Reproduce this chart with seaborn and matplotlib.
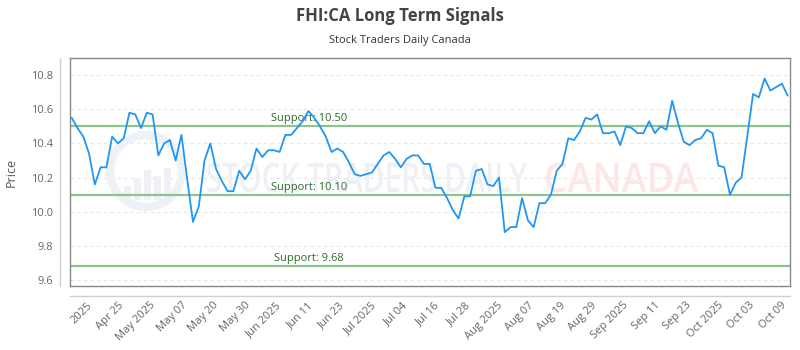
import numpy as np
import pandas as pd
import matplotlib
matplotlib.use('Agg')
import matplotlib.pyplot as plt
from matplotlib.patches import Circle, Rectangle, PathPatch
from matplotlib.lines import Line2D
from matplotlib.textpath import TextPath
from matplotlib.font_manager import FontProperties
from matplotlib.transforms import Affine2D
import seaborn as sns

# closing prices, one per trading day
prices = [
    10.55, 10.49, 10.44, 10.34, 10.16, 10.26, 10.26, 10.44, 10.40, 10.43,
    10.58, 10.57, 10.49, 10.58, 10.57, 10.33, 10.40, 10.42, 10.30, 10.45,
    10.19, 9.94, 10.03, 10.30, 10.40, 10.25, 10.18, 10.12, 10.12, 10.24,
    10.19, 10.24, 10.37, 10.32, 10.36, 10.36, 10.35, 10.45, 10.45, 10.49,
    10.53, 10.59, 10.55, 10.50, 10.44, 10.35, 10.37, 10.35, 10.29, 10.22,
    10.21, 10.22, 10.23, 10.28, 10.33, 10.35, 10.31, 10.26, 10.31, 10.33,
    10.33, 10.28, 10.28, 10.14, 10.14, 10.08, 10.01, 9.96, 10.09, 10.09,
    10.24, 10.25, 10.16, 10.15, 10.20, 9.88, 9.91, 9.91, 10.08, 9.95,
    9.91, 10.05, 10.05, 10.10, 10.24, 10.28, 10.43, 10.42, 10.47, 10.55,
    10.54, 10.57, 10.46, 10.46, 10.47, 10.39, 10.50, 10.49, 10.46, 10.46,
    10.53, 10.46, 10.50, 10.48, 10.65, 10.52, 10.41, 10.39, 10.42, 10.43,
    10.48, 10.46, 10.27, 10.26, 10.10, 10.17, 10.20, 10.44, 10.69, 10.67,
    10.78, 10.71, 10.73, 10.75, 10.68,
]

tick_labels = ['2025', 'Apr 25', 'May 2025', 'May 07', 'May 20', 'May 30',
               'Jun 2025', 'Jun 11', 'Jun 23', 'Jul 2025', 'Jul 04', 'Jul 16',
               'Jul 28', 'Aug 2025', 'Aug 07', 'Aug 19', 'Aug 29', 'Sep 2025',
               'Sep 11', 'Sep 23', 'Oct 2025', 'Oct 03', 'Oct 09']

support_levels = [10.50, 10.10, 9.68]
support_labels = ['Support: 10.50', 'Support: 10.10', 'Support: 9.68']

df = pd.DataFrame({'day': np.arange(len(prices)), 'price': prices})

sns.set_style('white')
plt.rcParams['font.family'] = ['Open Sans', 'DejaVu Sans']

W, H = 800, 350
fig = plt.figure(figsize=(8, 3.5), dpi=100)
ax = fig.add_axes([0.0875, 0.183, 0.9, 0.651])


def watermark(text, left, right, baseline, cap, color):
    """Draw a squeezed text outline in figure pixels, under the data."""
    tp = TextPath((0, 0), text, size=cap / 0.714,
                  prop=FontProperties(family='Open Sans', weight='semibold'))
    ext = tp.get_extents()
    sx = (right - left) / ext.width
    tr = (Affine2D().translate(-ext.x0, 0).scale(sx, 1)
          .translate(left, H - baseline).scale(1 / W, 1 / H) + fig.transFigure)
    ax.add_artist(PathPatch(tp, transform=tr, facecolor=color,
                            edgecolor='none', zorder=1))


# faint logo and watermark
logo_col = '#eff1f6'
ax.add_artist(Circle((1.46, 1.79), 0.36, transform=fig.dpi_scale_trans,
                     facecolor='none', edgecolor=logo_col, lw=6, zorder=1))
for bx, bh in [(1.24, 0.14), (1.34, 0.22), (1.44, 0.30), (1.54, 0.24), (1.64, 0.32)]:
    ax.add_artist(Rectangle((bx, 1.50), 0.07, bh, transform=fig.dpi_scale_trans,
                            facecolor=logo_col, edgecolor='none', zorder=1))
watermark('STOCK TRADERS DAILY', 207, 527, 192, 29, '#eef0f5')
watermark('CANADA', 546, 698, 192, 29, '#fde6e6')

for lvl, lab in zip(support_levels, support_labels):
    ax.axhline(lvl, color='#8cc48c', lw=1.6, zorder=2)
    ax.text(0.332, lvl + 0.012, lab, transform=ax.get_yaxis_transform(),
            ha='center', va='bottom', fontsize=8, color='#2e6b2e', zorder=3)

sns.lineplot(data=df, x='day', y='price', ax=ax, color='#2196f3', lw=1.3, zorder=4)

ax.set_xlim(-0.3, len(prices) - 1 + 0.4)
ax.set_ylim(9.565, 10.9)
ax.set_yticks([9.6, 9.8, 10.0, 10.2, 10.4, 10.6, 10.8])
ax.set_yticklabels(['9.6', '9.8', '10.0', '10.2', '10.4', '10.6', '10.8'])
ax.grid(axis='y', color='#e6e6e6', ls=(0, (3, 3)), lw=0.8)
ax.set_axisbelow(True)

tick_pos = np.linspace(2.6, 122.8, len(tick_labels))
ax.set_xticks(tick_pos)
ax.set_xticklabels(tick_labels, rotation=45, ha='right', rotation_mode='anchor')
ax.tick_params(axis='x', length=0, pad=10, labelsize=8, labelcolor='#666666')
ax.tick_params(axis='y', length=0, pad=12, labelsize=8, labelcolor='#666666')
ax.set_xlabel('')
ax.set_ylabel('Price', fontsize=9, color='#555555', labelpad=10)

for s in ax.spines.values():
    s.set_color('#888888')
    s.set_linewidth(1.0)

# detached axis lines like the original
fig.add_artist(Line2D([60 / W, 60 / W], [1 - 286 / H, 1 - 58 / H],
                      transform=fig.transFigure, color='#d0d0d0', lw=1))
fig.add_artist(Line2D([70 / W, 790 / W], [1 - 296 / H, 1 - 296 / H],
                      transform=fig.transFigure, color='#d0d0d0', lw=1))

fig.text(0.5, 0.955, 'FHI:CA Long Term Signals', ha='center', va='center',
         fontsize=12, fontweight='bold', color='#444444')
fig.text(0.5, 0.885, 'Stock Traders Daily Canada', ha='center', va='center',
         fontsize=8, color='#333333')

fig.savefig('out.png', dpi=100)
